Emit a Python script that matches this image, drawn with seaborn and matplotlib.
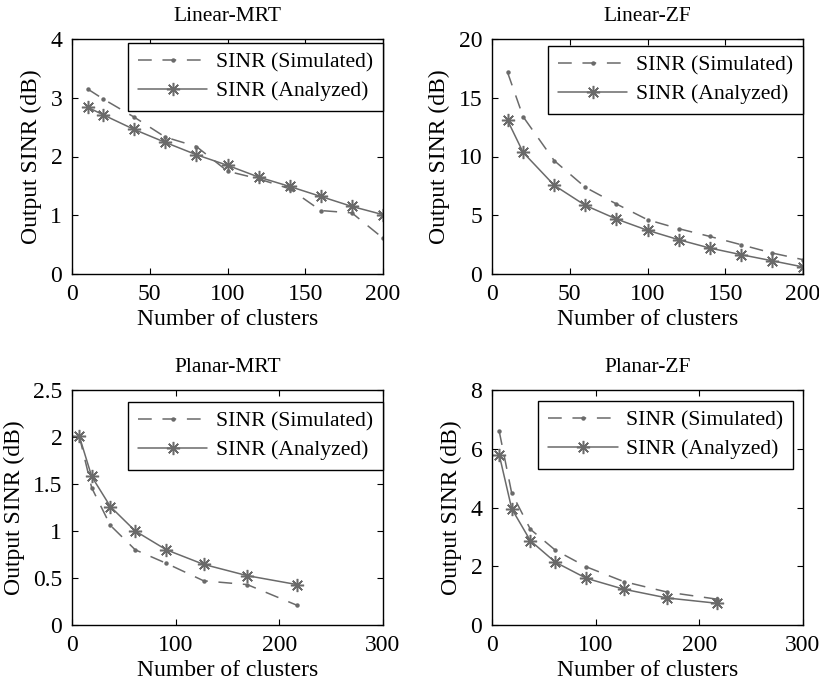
import numpy as np
import pandas as pd
import matplotlib
matplotlib.use("Agg")
import matplotlib.pyplot as plt
import seaborn as sns

# Number of clusters
linear_clusters = [10, 20, 40, 60, 80, 100, 120, 140, 160, 180, 200]
planar_clusters = [7, 19, 37, 61, 91, 127, 169, 217]

# Output SINR (dB)
linear_mrt_sim = [3.15, 2.98, 2.67, 2.33, 2.17, 1.75, 1.62, 1.45, 1.08, 1.04, 0.61]
linear_mrt_ana = [2.84, 2.71, 2.46, 2.24, 2.03, 1.85, 1.65, 1.49, 1.32, 1.15, 1.01]
linear_zf_sim = [17.16, 13.39, 9.65, 7.38, 5.96, 4.62, 3.86, 3.20, 2.50, 1.79, 1.22]
linear_zf_ana = [13.08, 10.35, 7.55, 5.84, 4.68, 3.72, 2.92, 2.21, 1.65, 1.13, 0.60]
planar_mrt_sim = [2.01, 1.46, 1.06, 0.80, 0.656, 0.47, 0.43, 0.21]
planar_mrt_ana = [2.01, 1.58, 1.26, 1.00, 0.80, 0.645, 0.525, 0.43]
planar_zf_sim = [6.59, 4.49, 3.26, 2.55, 1.98, 1.48, 1.12, 0.88]
planar_zf_ana = [5.79, 3.96, 2.87, 2.14, 1.59, 1.22, 0.92, 0.74]

titles = ["Linear-MRT", "Linear-ZF", "Planar-MRT", "Planar-ZF"]
sim_label = "SINR (Simulated)"
ana_label = "SINR (Analyzed)"
xlabel = "Number of clusters"
ylabel = "Output SINR (dB)"

sns.set_style("ticks")
plt.rcParams.update({
    "font.family": ["Liberation Serif", "DejaVu Serif"],
    "font.size": 17,
    "xtick.labelsize": 17,
    "ytick.labelsize": 17,
    "xtick.direction": "in",
    "ytick.direction": "in",
    "xtick.top": True,
    "ytick.right": True,
    "xtick.major.size": 4,
    "ytick.major.size": 4,
    "xtick.major.pad": 7,
    "ytick.major.pad": 7,
    "axes.linewidth": 1.0,
    "axes.edgecolor": "black",
    "xtick.color": "black",
    "ytick.color": "black",
    "axes.labelcolor": "black",
    "text.color": "black",
})

GRAY = "#6a6a6a"
W, H = 819, 680
fig = plt.figure(figsize=(W / 100, H / 100), dpi=100)

# axes boxes in pixels: left, top, right, bottom
boxes = [(72, 39, 383, 274), (492, 39, 803, 274),
         (72, 390, 383, 625), (492, 390, 803, 625)]
panels = [
    (linear_clusters, linear_mrt_sim, linear_mrt_ana, (0, 200), np.arange(0, 201, 50), (0, 4), np.arange(0, 4.01, 1)),
    (linear_clusters, linear_zf_sim, linear_zf_ana, (0, 200), np.arange(0, 201, 50), (0, 20), np.arange(0, 20.1, 5)),
    (planar_clusters, planar_mrt_sim, planar_mrt_ana, (0, 300), np.arange(0, 301, 100), (0, 2.5), np.arange(0, 2.51, 0.5)),
    (planar_clusters, planar_zf_sim, planar_zf_ana, (0, 300), np.arange(0, 301, 100), (0, 8), np.arange(0, 8.1, 2)),
]
legend_anchor = [(1.0, 0.983), (1.0, 0.97), (1.0, 0.949), (0.968, 0.953)]

for i, (box, panel, title) in enumerate(zip(boxes, panels, titles)):
    l, t, r, b = box
    ax = fig.add_axes([l / W, 1 - b / H, (r - l) / W, (b - t) / H])
    xs, ysim, yana, xlim, xticks, ylim, yticks = panel
    sns.lineplot(x=xs, y=ysim, ax=ax, color=GRAY, linewidth=1.1,
                 linestyle=(0, (9, 7)), marker="o", markersize=3.2,
                 markeredgewidth=0, label=sim_label)
    sns.lineplot(x=xs, y=yana, ax=ax, color=GRAY, linewidth=1.1,
                 linestyle="-", marker=(8, 2, 0), markersize=9.5,
                 markeredgewidth=1.1, markeredgecolor=GRAY, label=ana_label)
    ax.set_xlim(*xlim)
    ax.set_ylim(*ylim)
    ax.set_xticks(xticks)
    ax.set_yticks(yticks)
    ax.set_yticklabels([f"{v:g}" for v in yticks])
    ax.set_title(title, fontsize=15.5, pad=13)
    ax.set_xlabel(xlabel, labelpad=3)
    ax.set_ylabel(ylabel, labelpad=6)
    for s in ax.spines.values():
        s.set_visible(True)
    leg = ax.legend(loc="upper right", bbox_to_anchor=legend_anchor[i],
                    borderaxespad=0, frameon=True, fancybox=False,
                    edgecolor="black", framealpha=1, handlelength=3.2,
                    handletextpad=0.4, borderpad=0.45, labelspacing=0.38,
                    fontsize=15.6)
    leg.get_frame().set_linewidth(1.0)

fig.savefig("out.png", dpi=100)
